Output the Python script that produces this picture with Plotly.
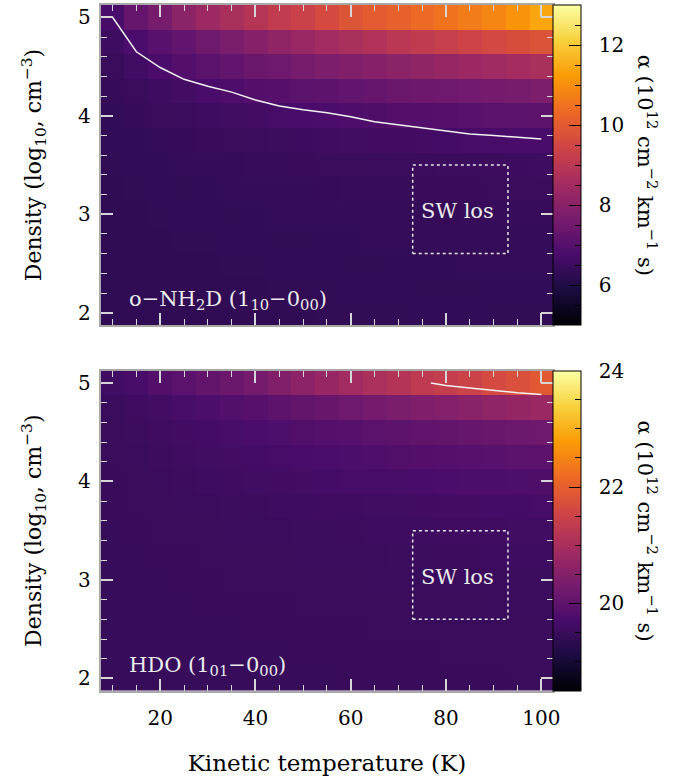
import plotly.graph_objects as go

# ---------------- data ----------------
temps = [10, 15, 20, 25, 30, 35, 40, 45, 50, 55, 60, 65, 70, 75, 80, 85, 90, 95, 100]
dens = [2.0, 2.25, 2.5, 2.75, 3.0, 3.25, 3.5, 3.75, 4.0, 4.25, 4.5, 4.75, 5.0]

# o-NH2D alpha (1e12 cm^-2 km^-1 s), rows follow `dens`
nh2d_alpha = [
    [6.29, 6.29, 6.29, 6.30, 6.30, 6.30, 6.31, 6.31, 6.31, 6.32, 6.32, 6.32, 6.32, 6.33, 6.33, 6.33, 6.34, 6.34, 6.34],
    [6.29, 6.29, 6.30, 6.30, 6.31, 6.31, 6.31, 6.32, 6.32, 6.32, 6.33, 6.33, 6.33, 6.34, 6.34, 6.34, 6.35, 6.35, 6.35],
    [6.29, 6.30, 6.30, 6.31, 6.31, 6.32, 6.32, 6.33, 6.33, 6.33, 6.34, 6.34, 6.35, 6.35, 6.35, 6.36, 6.36, 6.36, 6.37],
    [6.30, 6.30, 6.31, 6.32, 6.32, 6.33, 6.33, 6.34, 6.34, 6.35, 6.35, 6.36, 6.36, 6.37, 6.37, 6.38, 6.38, 6.38, 6.39],
    [6.30, 6.31, 6.32, 6.33, 6.33, 6.34, 6.35, 6.36, 6.36, 6.37, 6.38, 6.38, 6.39, 6.39, 6.40, 6.41, 6.41, 6.42, 6.42],
    [6.31, 6.32, 6.33, 6.34, 6.35, 6.36, 6.37, 6.38, 6.39, 6.40, 6.41, 6.41, 6.42, 6.43, 6.44, 6.44, 6.45, 6.46, 6.47],
    [6.32, 6.33, 6.35, 6.36, 6.38, 6.39, 6.41, 6.42, 6.44, 6.45, 6.46, 6.48, 6.49, 6.50, 6.51, 6.52, 6.53, 6.54, 6.55],
    [6.33, 6.35, 6.38, 6.40, 6.43, 6.46, 6.49, 6.51, 6.54, 6.57, 6.60, 6.62, 6.64, 6.66, 6.69, 6.71, 6.73, 6.75, 6.77],
    [6.35, 6.40, 6.45, 6.50, 6.55, 6.60, 6.65, 6.70, 6.75, 6.80, 6.85, 6.90, 6.95, 6.95, 7.00, 7.05, 7.10, 7.10, 7.15],
    [6.40, 6.45, 6.55, 6.65, 6.75, 6.85, 6.95, 7.00, 7.10, 7.15, 7.25, 7.30, 7.40, 7.45, 7.50, 7.55, 7.60, 7.65, 7.75],
    [6.45, 6.60, 6.80, 6.95, 7.10, 7.25, 7.40, 7.50, 7.65, 7.75, 7.85, 7.95, 8.05, 8.15, 8.25, 8.35, 8.45, 8.55, 8.65],
    [6.55, 6.80, 7.05, 7.25, 7.50, 7.70, 7.95, 8.15, 8.30, 8.50, 8.65, 8.80, 9.00, 9.10, 9.25, 9.40, 9.55, 9.65, 9.80],
    [6.75, 7.30, 7.65, 8.05, 8.40, 8.65, 8.90, 9.15, 9.35, 9.60, 9.85, 10.00, 10.15, 10.35, 10.50, 10.65, 10.85, 11.10, 11.40],
]

# HDO alpha (1e12 cm^-2 km^-1 s), rows follow `dens`
hdo_alpha = [
    [19.47, 19.47, 19.47, 19.47, 19.48, 19.48, 19.48, 19.48, 19.48, 19.48, 19.49, 19.49, 19.49, 19.49, 19.49, 19.49, 19.49, 19.50, 19.50],
    [19.47, 19.47, 19.47, 19.48, 19.48, 19.48, 19.48, 19.48, 19.49, 19.49, 19.49, 19.49, 19.49, 19.49, 19.50, 19.50, 19.50, 19.50, 19.50],
    [19.47, 19.47, 19.48, 19.48, 19.48, 19.48, 19.49, 19.49, 19.49, 19.49, 19.49, 19.50, 19.50, 19.50, 19.50, 19.50, 19.51, 19.51, 19.51],
    [19.47, 19.48, 19.48, 19.48, 19.49, 19.49, 19.49, 19.49, 19.50, 19.50, 19.50, 19.50, 19.51, 19.51, 19.51, 19.51, 19.52, 19.52, 19.52],
    [19.48, 19.48, 19.48, 19.49, 19.49, 19.50, 19.50, 19.50, 19.51, 19.51, 19.51, 19.52, 19.52, 19.52, 19.53, 19.53, 19.53, 19.54, 19.54],
    [19.48, 19.48, 19.49, 19.49, 19.50, 19.50, 19.51, 19.51, 19.52, 19.52, 19.53, 19.53, 19.54, 19.54, 19.55, 19.55, 19.56, 19.56, 19.57],
    [19.48, 19.49, 19.50, 19.50, 19.51, 19.52, 19.52, 19.53, 19.54, 19.54, 19.55, 19.56, 19.56, 19.57, 19.58, 19.58, 19.59, 19.60, 19.60],
    [19.49, 19.50, 19.51, 19.52, 19.53, 19.54, 19.55, 19.56, 19.57, 19.58, 19.59, 19.60, 19.61, 19.62, 19.63, 19.64, 19.65, 19.66, 19.67],
    [19.49, 19.51, 19.53, 19.55, 19.56, 19.58, 19.60, 19.62, 19.63, 19.65, 19.67, 19.68, 19.70, 19.72, 19.73, 19.75, 19.76, 19.78, 19.80],
    [19.50, 19.52, 19.55, 19.58, 19.60, 19.63, 19.66, 19.68, 19.71, 19.74, 19.76, 19.79, 19.81, 19.84, 19.86, 19.89, 19.91, 19.94, 19.96],
    [19.50, 19.54, 19.58, 19.62, 19.66, 19.70, 19.74, 19.78, 19.82, 19.86, 19.90, 19.94, 19.98, 20.02, 20.06, 20.10, 20.14, 20.18, 20.22],
    [19.52, 19.58, 19.63, 19.70, 19.76, 19.83, 19.90, 19.97, 20.05, 20.12, 20.20, 20.28, 20.36, 20.43, 20.50, 20.57, 20.65, 20.72, 20.80],
    [19.60, 19.70, 19.85, 19.95, 20.05, 20.15, 20.30, 20.45, 20.60, 20.75, 20.90, 21.05, 21.15, 21.30, 21.40, 21.50, 21.65, 21.75, 21.90],
]

# white curves
nh2d_curve_t = [7.5, 10, 15, 20, 25, 30, 35, 40, 45, 50, 55, 60, 65, 70, 75, 80, 85, 90, 95, 100]
nh2d_curve_n = [5.0, 5.0, 4.65, 4.49, 4.37, 4.30, 4.24, 4.16, 4.10, 4.06, 4.03, 3.99, 3.94, 3.91, 3.875, 3.845, 3.815, 3.80, 3.785, 3.765]
hdo_curve_t = [76.8, 80, 85, 90, 95, 100]
hdo_curve_n = [5.0, 4.975, 4.95, 4.925, 4.90, 4.883]

# SW line-of-sight box
box_t = [73, 93, 93, 73, 73]
box_n = [2.6, 2.6, 3.5, 3.5, 2.6]

nh2d_range = [5, 13]
hdo_range = [18.5, 24]
t_range = [7.5, 102.5]
n_range = [1.875, 5.125]

# ---------------- figure ----------------
W, H = 678, 780
FONT = "DejaVu Serif"
x_dom = [101.7 / W, 559 / W]
top_dom = [1 - 325 / H, 1 - 5 / H]
bot_dom = [1 - 690.7 / H, 1 - 370.7 / H]
cb_x = 559 / W

fig = go.Figure()

clear_scale = [[0, "rgba(0,0,0,0)"], [1, "rgba(0,0,0,0)"]]


def add_panel(z, zr, xa, ya, dom):
    ymid = (dom[0] + dom[1]) / 2
    common_cb = dict(x=cb_x, xanchor="left", xpad=0, ypad=0, thickness=28,
                     thicknessmode="pixels", len=320, lenmode="pixels",
                     y=ymid, yanchor="middle")
    fig.add_trace(go.Heatmap(
        x=temps, y=dens, z=z, zmin=zr[0], zmax=zr[1], colorscale="Inferno",
        xaxis=xa, yaxis=ya, hoverinfo="skip",
        colorbar=dict(**common_cb, outlinewidth=1, outlinecolor="black",
                      tickmode="linear", tick0=0, dtick=2, ticks="inside",
                      ticklen=12, tickwidth=1.2, tickcolor="black",
                      tickprefix="\u00a0\u00a0",
                      tickfont=dict(family=FONT, size=20, color="black")),
    ))
    fig.add_trace(go.Heatmap(
        x=temps, y=dens, z=z, zmin=zr[0], zmax=zr[1], colorscale=clear_scale,
        xaxis=xa, yaxis=ya, hoverinfo="skip",
        colorbar=dict(**common_cb, outlinewidth=0,
                      tickmode="linear", tick0=0, dtick=0.5, ticks="inside",
                      ticklen=6, tickwidth=1.2, tickcolor="black",
                      showticklabels=False),
    ))


add_panel(nh2d_alpha, nh2d_range, "x", "y", top_dom)
add_panel(hdo_alpha, hdo_range, "x2", "y2", bot_dom)

line_style = dict(color="#f2f2f2", width=1.5)
fig.add_trace(go.Scatter(x=nh2d_curve_t, y=nh2d_curve_n, mode="lines", line=line_style,
                         xaxis="x", yaxis="y", showlegend=False, hoverinfo="skip"))
fig.add_trace(go.Scatter(x=hdo_curve_t, y=hdo_curve_n, mode="lines", line=line_style,
                         xaxis="x2", yaxis="y2", showlegend=False, hoverinfo="skip"))
box_style = dict(color="#e8e8e8", width=1.5, dash="dot")
for xa, ya in (("x", "y"), ("x2", "y2")):
    fig.add_trace(go.Scatter(x=box_t, y=box_n, mode="lines", line=box_style,
                             xaxis=xa, yaxis=ya, showlegend=False, hoverinfo="skip"))

tick_col = "#d6d6d6"
axis_common = dict(showgrid=False, zeroline=False, showline=True, linecolor="#a8a8a8",
                   linewidth=2, mirror="ticks", ticks="inside", ticklen=12, tickwidth=1.5,
                   tickcolor=tick_col, tickfont=dict(family=FONT, size=20, color="black"))
xcommon = dict(axis_common, range=t_range, tickmode="linear", tick0=0, dtick=20,
               ticklabelstandoff=8,
               minor=dict(tickmode="linear", tick0=0, dtick=5, ticks="inside", ticklen=6,
                          tickcolor=tick_col, tickwidth=1.2))
ycommon = dict(axis_common, range=n_range, tickmode="linear", tick0=0, dtick=1,
               ticklabelstandoff=4,
               minor=dict(tickmode="linear", tick0=0, dtick=0.2, ticks="inside", ticklen=6,
                          tickcolor=tick_col, tickwidth=1.2))
ytitle = dict(text="Density (log<sub>10</sub>, cm<sup>−3</sup>)",
              font=dict(family=FONT, size=22, color="black"), standoff=30)

fig.update_layout(
    width=W, height=H, autosize=False,
    margin=dict(l=0, r=0, t=0, b=0),
    paper_bgcolor="white", plot_bgcolor="white",
    showlegend=False,
    xaxis=dict(xcommon, domain=x_dom, anchor="y", showticklabels=False),
    yaxis=dict(ycommon, domain=top_dom, anchor="x", title=ytitle),
    xaxis2=dict(xcommon, domain=x_dom, anchor="y2",
                title=dict(text="Kinetic temperature (K)",
                           font=dict(family=FONT, size=23, color="black"), standoff=26)),
    yaxis2=dict(ycommon, domain=bot_dom, anchor="x2", title=ytitle),
)

cb_title = "α (10<sup>12</sup> cm<sup>−2</sup> km<sup>−1</sup> s)"
lab_font = dict(family=FONT, size=21, color="#ececec")
for xa, ya, dom, lab in (("x", "y", top_dom, "o−NH<sub>2</sub>D (1<sub>10</sub>−0<sub>00</sub>)"),
                         ("x2", "y2", bot_dom, "HDO (1<sub>01</sub>−0<sub>00</sub>)")):
    fig.add_annotation(x=13, y=2.13, xref=xa, yref=ya, text=lab, showarrow=False,
                       xanchor="left", yanchor="middle", font=lab_font)
    fig.add_annotation(x=82.3, y=3.03, xref=xa, yref=ya, text="SW los", showarrow=False,
                       xanchor="center", yanchor="middle", font=lab_font)
    fig.add_annotation(x=654 / W, y=(dom[0] + dom[1]) / 2, xref="paper", yref="paper",
                       text=cb_title, textangle=90, showarrow=False,
                       xanchor="center", yanchor="middle",
                       font=dict(family=FONT, size=21, color="black"))

fig.write_html("out.html")
